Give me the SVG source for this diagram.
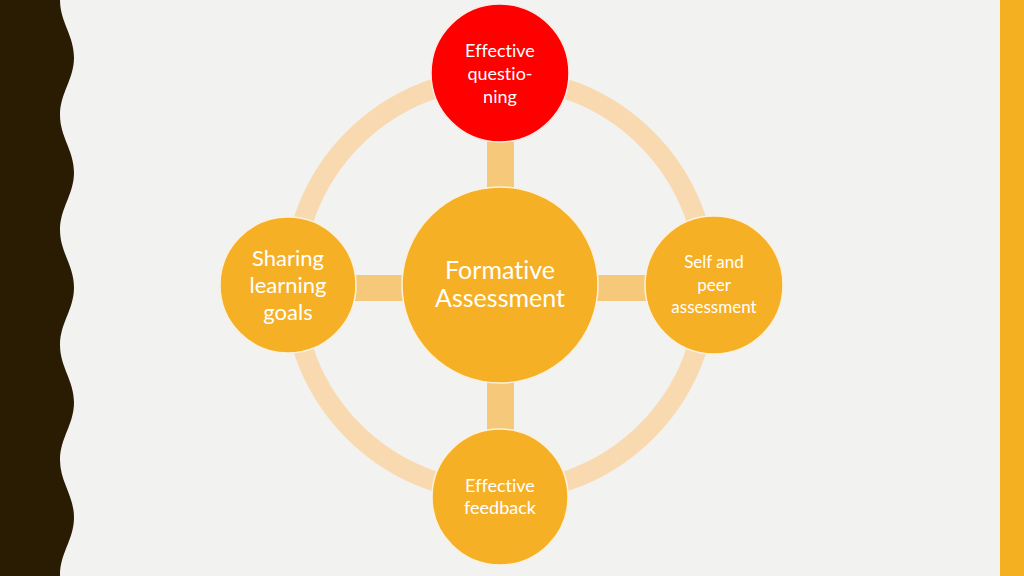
<svg xmlns="http://www.w3.org/2000/svg" width="1024" height="576" viewBox="0 0 1024 576">
<style>
.node{fill:#F6B026;stroke:#FBF1DE;stroke-width:1.5}
.red{fill:#FE0000;stroke:#FBE9E6;stroke-width:1.5}
.lbl{font-family:Lato,"Liberation Sans",sans-serif;fill:#FFFFFF;text-anchor:middle;font-variant-ligatures:none}
.conn{fill:#F6C97A}
</style>
<rect width="1024" height="576" fill="#F2F2F0"/>
<path d="M0,0 H60 C60,22 74,35.5 74,57.5 S60,93 60,115 S74,150.5 74,172.5 S60,208 60,230 S74,265.5 74,287.5 S60,323 60,345 S74,380.5 74,402.5 S60,438 60,460 S74,495.5 74,517.5 S60,553 60,575 L60,576 H0 Z" fill="#2A1B03"/>
<rect x="1000" y="0" width="24" height="576" fill="#F5B022"/>
<g id="connectors">
<circle cx="500" cy="285" r="207" fill="none" stroke="#F9DAB0" stroke-width="20"/>
<rect class="conn" x="487" y="138" width="27" height="52"/>
<rect class="conn" x="487" y="380" width="27" height="52"/>
<rect class="conn" x="350" y="275" width="56" height="26"/>
<rect class="conn" x="594" y="275" width="56" height="26"/>
</g>
<g id="center">
<circle class="node" cx="500" cy="285" r="98"/>
<text class="lbl" font-size="25" x="500" y="279">Formative</text>
<text class="lbl" font-size="25" x="500" y="307">Assessment</text>
</g>
<g id="top">
<circle class="red" cx="500" cy="73" r="69"/>
<text class="lbl" font-size="18" x="500" y="57">Effective</text>
<text class="lbl" font-size="18" x="500" y="80">questio-</text>
<text class="lbl" font-size="18" x="500" y="103">ning</text>
</g>
<g id="left">
<circle class="node" cx="288" cy="285" r="68"/>
<text class="lbl" font-size="22" x="288" y="266">Sharing</text>
<text class="lbl" font-size="22" x="288" y="293">learning</text>
<text class="lbl" font-size="22" x="288" y="320">goals</text>
</g>
<g id="right">
<circle class="node" cx="714" cy="285" r="69"/>
<text class="lbl" font-size="17" x="714" y="268">Self and</text>
<text class="lbl" font-size="17" x="714" y="291">peer</text>
<text class="lbl" font-size="17" x="714" y="313">assessment</text>
</g>
<g id="bottom">
<circle class="node" cx="500" cy="497" r="68"/>
<text class="lbl" font-size="18" x="500" y="492">Effective</text>
<text class="lbl" font-size="18" x="500" y="514">feedback</text>
</g>
</svg>
